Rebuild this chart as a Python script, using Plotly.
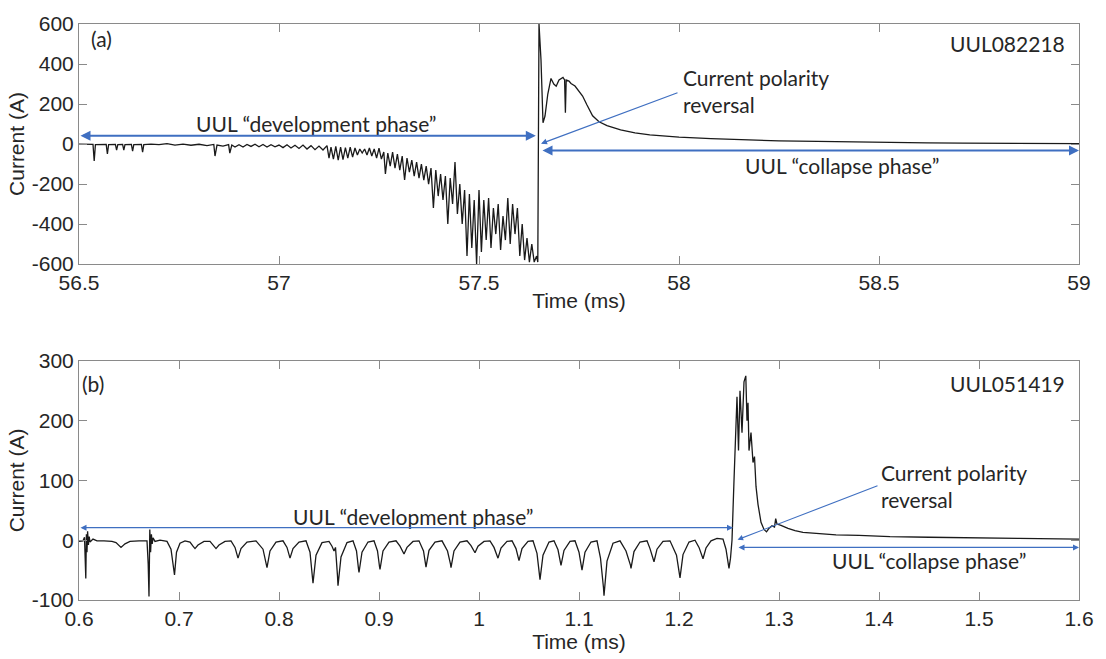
import plotly.graph_objects as go

# ---------------- data: panel (a) UUL082218 ----------------
t_a = [56.500, 56.535, 56.538, 56.541, 56.568, 56.571, 56.574, 56.591, 56.594, 56.597,
       56.609, 56.612, 56.615, 56.631, 56.634, 56.637, 56.656, 56.659, 56.662,
       56.680, 56.700, 56.720, 56.740, 56.760, 56.780, 56.800, 56.820, 56.837, 56.840,
       56.845, 56.860, 56.874, 56.877, 56.882, 56.890, 56.900, 56.910, 56.920, 56.930,
       56.940, 56.950, 56.960, 56.970, 56.980, 56.990, 57.000, 57.010, 57.020, 57.030,
       57.040, 57.050, 57.060, 57.070, 57.080, 57.090, 57.100, 57.110, 57.120,
       57.125, 57.130, 57.136, 57.142, 57.148, 57.154, 57.160, 57.166, 57.172, 57.178,
       57.184, 57.190, 57.196, 57.202, 57.208, 57.214, 57.220, 57.226, 57.232, 57.238,
       57.244, 57.250, 57.256, 57.262, 57.266, 57.272, 57.278, 57.284, 57.290, 57.296,
       57.302, 57.308, 57.314, 57.320, 57.326, 57.332, 57.338, 57.344, 57.350, 57.356,
       57.362, 57.368, 57.374, 57.380, 57.386, 57.392, 57.398, 57.404, 57.410, 57.416,
       57.422, 57.428, 57.434, 57.440, 57.446, 57.452, 57.458, 57.464, 57.470, 57.476,
       57.482, 57.488, 57.494, 57.500, 57.506, 57.512, 57.518, 57.524, 57.530, 57.536,
       57.542, 57.548, 57.554, 57.560, 57.566, 57.572, 57.578, 57.584, 57.590, 57.596,
       57.602, 57.608, 57.614, 57.620, 57.626, 57.632, 57.638, 57.644, 57.647, 57.650,
       57.655, 57.660, 57.665, 57.672, 57.680, 57.687, 57.693, 57.700, 57.710, 57.714,
       57.716, 57.718, 57.725, 57.730, 57.740, 57.750, 57.759, 57.770, 57.784, 57.800,
       57.820, 57.854, 57.890, 57.927, 58.000, 58.080, 58.164, 58.250, 58.346, 58.430,
       58.528, 58.620, 58.710, 58.850, 59.000]
i_a = [0, -2, -85, -3, -2, -50, -3, -2, -30, -3,
       -2, -30, -3, -2, -35, -3, -2, -40, -3,
       0, -3, 2, -5, 0, -6, -1, -8, -2, -60,
       -5, -10, -3, -45, -5, -15, -3, -15, -2, -12,
       -1, -14, -2, -15, -3, -14, -5, -18, -4, -20,
       -6, -22, -5, -25, -8, -28, -10, -30, -8,
       -70, -15, -75, -12, -80, -15, -78, -18, -70, -15,
       -65, -20, -55, -25, -45, -25, -55, -20, -60, -25,
       -70, -20, -75, -40, -150, -45, -110, -40, -120, -50,
       -130, -60, -180, -70, -140, -80, -160, -90, -170, -100,
       -180, -110, -200, -120, -320, -130, -260, -150, -280, -160,
       -400, -170, -300, -90, -350, -200, -400, -230, -560, -250,
       -520, -280, -600, -230, -540, -280, -480, -270, -520, -320,
       -450, -300, -530, -360, -480, -270, -500, -300, -450, -320,
       -560, -400, -580, -470, -590, -500, -590, -560, -590, 600,
       420, 106, 140, 250, 328, 300, 289, 320, 333, 320,
       156, 320, 315, 303, 290, 265, 240, 195, 141, 111,
       92, 71, 56, 46, 35, 27, 21, 16, 13, 10,
       8, 6, 5, 3, 2]

# ---------------- data: panel (b) UUL051419 ----------------
t_b = [0.600, 0.604, 0.6055, 0.6062, 0.6068, 0.6074, 0.6080, 0.6086, 0.6094, 0.6102,
       0.611, 0.614, 0.618, 0.625, 0.633, 0.637, 0.642, 0.646, 0.651, 0.660,
       0.668, 0.6692, 0.6700, 0.6708, 0.6716, 0.6724, 0.6732, 0.674, 0.676, 0.681,
       0.688, 0.692, 0.6945, 0.6955, 0.6975, 0.701, 0.706, 0.711, 0.714, 0.716,
       0.719, 0.725, 0.731, 0.735, 0.737, 0.740, 0.746, 0.752, 0.756, 0.759,
       0.762, 0.768, 0.777, 0.784, 0.7875, 0.788, 0.791, 0.797, 0.804, 0.808,
       0.811, 0.814, 0.820, 0.827, 0.831, 0.8335, 0.834, 0.837, 0.843, 0.850,
       0.853, 0.855, 0.8565, 0.8585, 0.859, 0.862, 0.868, 0.874, 0.8775, 0.8795,
       0.880, 0.883, 0.889, 0.895, 0.8985, 0.9005, 0.901, 0.904, 0.910, 0.917,
       0.921, 0.925, 0.928, 0.934, 0.940, 0.9445, 0.9465, 0.947, 0.950, 0.956,
       0.963, 0.9685, 0.9715, 0.972, 0.975, 0.981, 0.988, 0.992, 0.996, 0.999,
       1.005, 1.011, 1.015, 1.019, 1.022, 1.028, 1.033, 1.037, 1.040, 1.043,
       1.049, 1.054, 1.058, 1.0605, 1.061, 1.064, 1.070, 1.075, 1.079, 1.082,
       1.085, 1.091, 1.096, 1.100, 1.1025, 1.103, 1.106, 1.112, 1.118, 1.1215,
       1.1245, 1.125, 1.128, 1.134, 1.141, 1.147, 1.1515, 1.152, 1.155, 1.161,
       1.168, 1.171, 1.175, 1.178, 1.184, 1.191, 1.1975, 1.2005, 1.201, 1.204,
       1.210, 1.216, 1.220, 1.224, 1.227, 1.232, 1.238, 1.244, 1.247, 1.2495,
       1.250, 1.2515, 1.253, 1.255, 1.257, 1.258, 1.2595, 1.261, 1.263, 1.265,
       1.2668, 1.268, 1.269, 1.270, 1.272, 1.274, 1.2755, 1.277, 1.279, 1.282,
       1.285, 1.2875, 1.290, 1.293, 1.2955, 1.2967, 1.298, 1.302, 1.309, 1.316,
       1.324, 1.340, 1.357, 1.380, 1.411, 1.450, 1.484, 1.540, 1.600]
i_b = [-2, -1, 5, -30, -64, 10, -20, 15, -8, 6,
       -3, 2, -1, -1, -2, -4, -12, -6, -2, -1,
       -1, -40, -94, 18, -20, 10, -6, 4, -2, 0,
       -2, -15, -45, -58, -20, -5, -1, -3, -10, -14,
       -8, -2, -2, -10, -14, -8, -2, -1, -12, -30,
       -14, -3, -1, -15, -40, -46, -18, -3, -1, -12,
       -30, -14, -3, -1, -20, -60, -72, -25, -4, -2,
       -10, -18, -12, -60, -76, -28, -4, -1, -18, -48,
       -54, -20, -3, -1, -18, -44, -49, -18, -3, -1,
       -10, -23, -12, -2, -1, -18, -40, -45, -17, -3,
       -1, -18, -40, -46, -18, -3, -1, -9, -21, -10,
       -2, -1, -12, -30, -13, -2, -1, -14, -34, -14,
       -2, -1, -22, -58, -66, -25, -3, -1, -16, -42,
       -17, -2, -1, -20, -45, -50, -20, -3, -1, -30,
       -80, -93, -35, -5, -1, -18, -42, -47, -19, -3,
       -1, -14, -36, -15, -2, -1, -25, -58, -63, -24,
       -3, 0, -12, -31, -13, -1, 3, 2, -15, -42,
       -47, -30, 0, 100, 200, 240, 150, 250, 180, 265,
       275, 200, 230, 150, 180, 130, 140, 90, 60, 30,
       18, 14, 20, 24, 22, 36, 27, 25, 20, 16,
       13, 11, 9, 8, 6, 5, 4, 3, 2]

# ---------------- ticks ----------------
xa_ticks = [56.5, 57, 57.5, 58, 58.5, 59]
xa_labels = ["56.5", "57", "57.5", "58", "58.5", "59"]
ya_ticks = [-600, -400, -200, 0, 200, 400, 600]
ya_labels = ["-600", "-400", "-200", "0", "200", "400", "600"]
xb_ticks = [0.6, 0.7, 0.8, 0.9, 1.0, 1.1, 1.2, 1.3, 1.4, 1.5, 1.6]
xb_labels = ["0.6", "0.7", "0.8", "0.9", "1", "1.1", "1.2", "1.3", "1.4", "1.5", "1.6"]
yb_ticks = [-100, 0, 100, 200, 300]
yb_labels = ["-100", "0", "100", "200", "300"]

LINE = "#1a1a1a"
AX = "#8a8a8a"
BLUE = "#3f6fc1"
TICKFONT = dict(family="Liberation Sans", size=21, color="#262626")
TITLEFONT = dict(family="Liberation Sans", size=21, color="#262626")
NOTEFONT = dict(family="Lato", size=21, color="#262626")

fig = go.Figure()
fig.add_trace(go.Scatter(x=t_a, y=i_a, mode="lines", line=dict(color=LINE, width=1.3),
                         xaxis="x", yaxis="y", showlegend=False, hoverinfo="skip"))
fig.add_trace(go.Scatter(x=t_b, y=i_b, mode="lines", line=dict(color=LINE, width=1.3),
                         xaxis="x2", yaxis="y2", showlegend=False, hoverinfo="skip"))

def axis_style(**kw):
    d = dict(showline=True, linecolor=AX, linewidth=1, mirror="ticks", ticks="inside",
             ticklen=8, tickcolor=AX, tickwidth=1, showgrid=False, zeroline=False,
             tickfont=TICKFONT)
    d.update(kw)
    return d

fig.update_layout(
    width=1106, height=659,
    margin=dict(l=79, r=19, t=17, b=59),
    paper_bgcolor="white", plot_bgcolor="white",
    xaxis=axis_style(domain=[0, 1], anchor="y", range=[56.5, 59], tickmode="array",
                     tickvals=xa_ticks, ticktext=xa_labels,
                     title=dict(text="Time (ms)", font=TITLEFONT, standoff=0)),
    yaxis=axis_style(domain=[0.5832, 1], anchor="x", range=[-600, 600], tickmode="array",
                     tickvals=ya_ticks, ticktext=ya_labels,
                     title=dict(text="Current (A)", font=TITLEFONT, standoff=1)),
    xaxis2=axis_style(domain=[0, 1], anchor="y2", range=[0.6, 1.6], tickmode="array",
                      tickvals=xb_ticks, ticktext=xb_labels,
                      title=dict(text="Time (ms)", font=TITLEFONT, standoff=0)),
    yaxis2=axis_style(domain=[0, 0.4151], anchor="x2", range=[-100, 300], tickmode="array",
                      tickvals=yb_ticks, ticktext=yb_labels,
                      title=dict(text="Current (A)", font=TITLEFONT, standoff=1)),
)

ann = []
def text(x, y, s, xr, yr, xanchor="center", align="center"):
    ann.append(dict(x=x, y=y, xref=xr, yref=yr, text=s, showarrow=False,
                    xanchor=xanchor, yanchor="middle", align=align, font=NOTEFONT))

def arrow(x0, y0, x1, y1, xr, yr, both=True, width=2):
    ann.append(dict(x=x1, y=y1, ax=x0, ay=y0, xref=xr, yref=yr, axref=xr, ayref=yr,
                    text="", showarrow=True, arrowhead=2, arrowsize=1, arrowwidth=width,
                    arrowcolor=BLUE, arrowside="end+start" if both else "end",
                    startarrowhead=2, startarrowsize=1))

# panel (a)
text(56.555, 530, "(a)", "x", "y")
text(58.97, 501, "UUL082218", "x", "y", xanchor="right")
text(58.005, 264, "Current polarity<br>reversal", "x", "y", xanchor="left", align="left")
text(57.093, 103, "UUL “development phase”", "x", "y")
text(58.407, -106, "UUL “collapse phase”", "x", "y")
arrow(56.5, 42, 57.642, 42, "x", "y")
arrow(57.655, -32, 59.0, -32, "x", "y")
arrow(58.0, 259, 57.655, 2, "x", "y", both=False, width=1.2)

# panel (b)
text(0.614, 262, "(b)", "x2", "y2")
text(1.588, 262, "UUL051419", "x2", "y2", xanchor="right")
text(1.400, 90, "Current polarity<br>reversal", "x2", "y2", xanchor="left", align="left")
text(0.934, 40, "UUL “development phase”", "x2", "y2")
text(1.450, -34, "UUL “collapse phase”", "x2", "y2")
arrow(0.6, 21, 1.254, 21, "x2", "y2", width=1.2)
arrow(1.258, -12, 1.6, -12, "x2", "y2", width=1.2)
arrow(1.400, 92, 1.2586, 1, "x2", "y2", both=False, width=1.1)

fig.update_layout(annotations=ann)
fig.write_html("out.html")
